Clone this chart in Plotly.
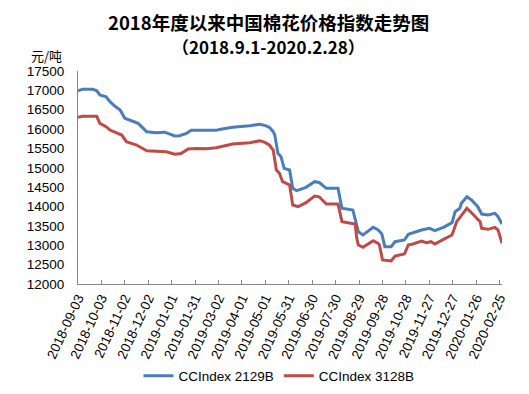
import plotly.graph_objects as go

# ---- data ----
dates_2129 = [
    "2018-09-03", "2018-09-09", "2018-09-22", "2018-09-27", "2018-10-01", "2018-10-09",
    "2018-10-14", "2018-10-20", "2018-10-27", "2018-11-02", "2018-11-08", "2018-11-19",
    "2018-11-30", "2018-12-12", "2018-12-23", "2019-01-05", "2019-01-11", "2019-01-20",
    "2019-01-26", "2019-02-27", "2019-03-03", "2019-03-20", "2019-04-11", "2019-04-24",
    "2019-05-01", "2019-05-06", "2019-05-11", "2019-05-13", "2019-05-17", "2019-05-21",
    "2019-05-25", "2019-06-01", "2019-06-05", "2019-06-10", "2019-06-22", "2019-07-03",
    "2019-07-09", "2019-07-18", "2019-08-02", "2019-08-07", "2019-08-21", "2019-08-28",
    "2019-09-03", "2019-09-16", "2019-09-22", "2019-09-27", "2019-10-01", "2019-10-09",
    "2019-10-14", "2019-10-26", "2019-10-31", "2019-11-06", "2019-11-17", "2019-11-27",
    "2019-12-04", "2019-12-15", "2019-12-26", "2019-12-30", "2020-01-05", "2020-01-07",
    "2020-01-14", "2020-01-20", "2020-01-28", "2020-02-02", "2020-02-10", "2020-02-19",
    "2020-02-23", "2020-02-28",
]
cc2129 = [
    16990, 17030, 17030, 16990, 16880, 16836,
    16707, 16596, 16493, 16278, 16234, 16149,
    15933, 15907, 15920, 15821, 15830, 15890,
    15968, 15968, 15990, 16046, 16088, 16123,
    16090, 16046, 15933, 15847, 15374, 15287,
    14987, 14943, 14471, 14409, 14497, 14642,
    14620, 14471, 14471, 13955, 13911, 13350,
    13265, 13464, 13402, 13300, 12963, 12963,
    13092, 13136, 13283, 13325, 13394, 13438,
    13376, 13464, 13583, 13867, 13955, 14083,
    14254, 14169, 13996, 13807, 13782, 13825,
    13738, 13550,
]

dates_3128 = [
    "2018-09-03", "2018-09-09", "2018-09-27", "2018-10-01", "2018-10-09", "2018-10-14",
    "2018-10-29", "2018-11-04", "2018-11-17", "2018-11-30", "2018-12-25", "2019-01-05",
    "2019-01-13", "2019-01-22", "2019-02-02", "2019-02-14", "2019-02-27", "2019-03-20",
    "2019-04-11", "2019-04-24", "2019-05-01", "2019-05-06", "2019-05-11", "2019-05-15",
    "2019-05-19", "2019-05-23", "2019-06-01", "2019-06-05", "2019-06-12", "2019-06-22",
    "2019-07-03", "2019-07-09", "2019-07-18", "2019-08-02", "2019-08-07", "2019-08-24",
    "2019-08-26", "2019-08-28", "2019-09-03", "2019-09-16", "2019-09-22", "2019-09-24",
    "2019-09-28", "2019-10-09", "2019-10-14", "2019-10-26", "2019-10-31", "2019-11-06",
    "2019-11-17", "2019-11-23", "2019-11-29", "2019-12-04", "2019-12-15", "2019-12-26",
    "2020-01-01", "2020-01-07", "2020-01-14", "2020-01-20", "2020-01-31", "2020-02-02",
    "2020-02-10", "2020-02-19", "2020-02-23", "2020-02-28",
]
cc3128 = [
    16304, 16330, 16330, 16149, 16063, 15976,
    15847, 15674, 15589, 15441, 15416, 15349,
    15370, 15486, 15500, 15490, 15520, 15615,
    15649, 15700, 15650, 15589, 15460, 14943,
    14858, 14642, 14556, 14040, 13996, 14100,
    14272, 14250, 14066, 14066, 13609, 13549,
    13180, 13007, 12947, 13118, 13051, 13007,
    12620, 12594, 12723, 12775, 13007, 13033,
    13110, 13066, 13092, 13033, 13154, 13265,
    13609, 13756, 13955, 13841, 13609, 13438,
    13412, 13464, 13394, 13051,
]

tick_dates = [
    "2018-09-03", "2018-10-03", "2018-11-02", "2018-12-02", "2019-01-01", "2019-01-31",
    "2019-03-02", "2019-04-01", "2019-05-01", "2019-05-31", "2019-06-30", "2019-07-30",
    "2019-08-29", "2019-09-28", "2019-10-28", "2019-11-27", "2019-12-27", "2020-01-26",
    "2020-02-25",
]
y_ticks = list(range(12000, 17501, 500))
y_tick_text = [str(v) for v in y_ticks]

series_names = ["CCIndex 2129B", "CCIndex 3128B"]
title_line1 = "2018年度以来中国棉花价格指数走势图"
title_line2 = "（2018.9.1-2020.2.28）"
unit_label = "元/吨"

BLUE = "#4A7EBB"
RED = "#BE4B48"
AXIS = "#868686"
FONT = "Liberation Sans, Arial, sans-serif"
CJK = "Noto Sans CJK SC, sans-serif"

fig = go.Figure()
fig.add_trace(go.Scatter(x=dates_2129, y=cc2129, mode="lines", name=series_names[0],
                         line=dict(color=BLUE, width=3)))
fig.add_trace(go.Scatter(x=dates_3128, y=cc3128, mode="lines", name=series_names[1],
                         line=dict(color=RED, width=3)))

# page body has an 8px margin, so the figure is drawn 8px right/down of the window corner
OFF = 8
W, H = 529 - OFF, 394 - OFF
L, R, T, B = 78 - OFF, 27, 71 - OFF, 110
PW, PH = W - L - R, H - T - B


def px_x(px):  # window pixel -> paper x
    return (px - OFF - L) / PW


def px_y(py):  # window pixel -> paper y
    return (H - B - (py - OFF)) / PH


fig.update_layout(
    width=W, height=H,
    margin=dict(l=L, r=R, t=T, b=B, pad=0, autoexpand=False),
    paper_bgcolor="white", plot_bgcolor="white",
    font=dict(family=FONT, size=13.5, color="#000000"),
    showlegend=True,
    legend=dict(orientation="h", xref="paper", yref="paper",
                x=px_x(279), y=px_y(376), xanchor="center", yanchor="middle",
                font=dict(family=FONT, size=13.5),
                bgcolor="rgba(0,0,0,0)", traceorder="normal"),
    xaxis=dict(type="date", range=["2018-09-03", "2020-02-28"],
               tickvals=tick_dates, ticktext=tick_dates, tickangle=-65,
               ticks="inside", ticklen=4, tickcolor=AXIS, tickwidth=1,
               showline=True, linecolor=AXIS, linewidth=1,
               showgrid=False, zeroline=False, automargin=False,
               tickfont=dict(family=FONT, size=13.5)),
    yaxis=dict(range=[12000, 17500], tickvals=y_ticks, ticktext=y_tick_text,
               ticks="", showline=True, linecolor=AXIS, linewidth=1,
               showgrid=False, zeroline=False, ticklabelstandoff=10, automargin=False,
               tickfont=dict(family=FONT, size=13.5)),
    annotations=[
        dict(text="<b>" + title_line1 + "</b>", xref="paper", yref="paper",
             x=px_x(268), y=px_y(22), xanchor="center", yanchor="middle",
             showarrow=False, font=dict(family=CJK, size=18.5, color="#000000")),
        dict(text="<b>" + title_line2 + "</b>", xref="paper", yref="paper",
             x=px_x(268), y=px_y(47), xanchor="center", yanchor="middle",
             showarrow=False, font=dict(family=CJK, size=17, color="#000000")),
        dict(text=unit_label, xref="paper", yref="paper",
             x=px_x(64), y=px_y(55), xanchor="right", yanchor="middle",
             showarrow=False, font=dict(family=CJK, size=13, color="#000000")),
    ],
)

fig.write_html("out.html")
